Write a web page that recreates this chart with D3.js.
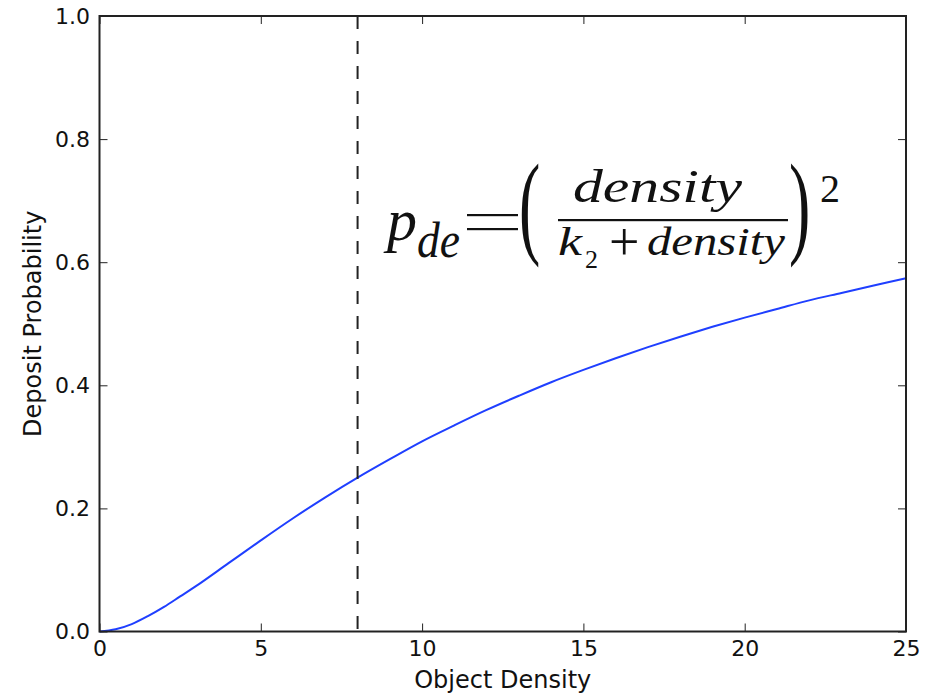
<!DOCTYPE html>
<html><head><meta charset="utf-8">
<script src="https://cdn.jsdelivr.net/npm/d3@7/dist/d3.min.js"></script>
<style>body{margin:0;background:#fff;} text{font-family:"DejaVu Sans",sans-serif;}</style>
</head><body>
<svg id="c" width="936" height="697"></svg>
<script>
// Data
const density = [0,0.5,1,1.5,2,2.5,3,4,5,6,7,8,9,10,11,12,13,14,15,16,17,18,19,20,21,22,23,24,25];
const probability = [0,0.0035,0.012,0.025,0.040,0.057,0.074,0.111,0.148,0.184,0.218,0.250,0.280,0.309,0.335,0.360,0.383,0.405,0.425,0.444,0.462,0.479,0.495,0.510,0.524,0.538,0.550,0.562,0.574];
const xTicks = [0,5,10,15,20,25];
const yTicks = [0.0,0.2,0.4,0.6,0.8,1.0];
const markerX = 8;

const svg = d3.select("#c");
const m = {l:99.5, r:906, t:16, b:631.5};
const x = d3.scaleLinear().domain([0,25]).range([m.l,m.r]);
const y = d3.scaleLinear().domain([0,1]).range([m.b,m.t]);

// line
const line = d3.line().x((d,i)=>x(density[i])).y(d=>y(d)).curve(d3.curveCatmullRom);
svg.append("path").datum(probability).attr("d",line)
  .attr("fill","none").attr("stroke","#1f3fff").attr("stroke-width",2);

// dashed line
svg.append("line").attr("x1",x(markerX)).attr("x2",x(markerX)).attr("y1",y(1)).attr("y2",y(0))
  .attr("stroke","#222").attr("stroke-width",2).attr("stroke-dasharray","13,12");

// axes with inward ticks
const tl = 8;
const gB = svg.append("g").attr("transform",`translate(0,${m.b})`)
  .call(d3.axisBottom(x).tickValues(xTicks).tickSizeInner(-tl).tickSizeOuter(0).tickPadding(9).tickFormat(d3.format("d")));
const gT = svg.append("g").attr("transform",`translate(0,${m.t})`)
  .call(d3.axisTop(x).tickValues(xTicks).tickSizeInner(-tl).tickSizeOuter(0).tickFormat(""));
const gL = svg.append("g").attr("transform",`translate(${m.l},0)`)
  .call(d3.axisLeft(y).tickValues(yTicks).tickSizeInner(-tl).tickSizeOuter(0).tickPadding(9.5).tickFormat(d3.format(".1f")));
const gR = svg.append("g").attr("transform",`translate(${m.r},0)`)
  .call(d3.axisRight(y).tickValues(yTicks).tickSizeInner(-tl).tickSizeOuter(0).tickFormat(""));
[gB,gT,gL,gR].forEach(g=>{
  g.select(".domain").remove();
  g.attr("font-size",22).attr("font-family","DejaVu Sans");
  g.selectAll(".tick line").attr("stroke","#222").attr("stroke-width",1);
  g.selectAll(".tick text").attr("fill","#111");
});
// frame
svg.append("rect").attr("x",m.l).attr("y",m.t).attr("width",m.r-m.l).attr("height",m.b-m.t)
  .attr("fill","none").attr("stroke","#222").attr("stroke-width",2);

// labels
svg.append("text").attr("x",(m.l+m.r)/2).attr("y",688).attr("text-anchor","middle")
  .attr("font-size",24).attr("fill","#111").text("Object Density");
svg.append("text").attr("transform",`translate(41,${(m.t+m.b)/2}) rotate(-90)`).attr("text-anchor","middle")
  .attr("font-size",24).attr("fill","#111").text("Deposit Probability");

// formula
const ser = "'Liberation Serif',serif";
const f = svg.append("g").attr("fill","#111");
const t = (xx,yy,s,txt,it,len) => {
  const e = f.append("text").attr("x",xx).attr("y",yy).attr("font-size",s).style("font-family",ser)
    .attr("font-style",it?"italic":"normal").text(txt);
  if (len) e.attr("textLength",len).attr("lengthAdjust","spacingAndGlyphs");
  return e;
};
t(387,240,60,"p",true);
t(417,257,50,"de",true,43);
f.append("rect").attr("x",467).attr("y",214).attr("width",51).attr("height",2.2);
f.append("rect").attr("x",467).attr("y",228).attr("width",51).attr("height",2.2);
f.append("text").attr("transform","translate(519,243) scale(1,1.78)").attr("font-size",64).style("font-family",ser).text("(");
f.append("text").attr("transform","translate(789,243) scale(1,1.78)").attr("font-size",64).style("font-family",ser).text(")");
t(573,202,47,"density",true,169);
f.append("rect").attr("x",558).attr("y",219).attr("width",230).attr("height",2.2);
t(558,255,40,"k",true,24);
t(585,268,26,"2",false);
t(609,260,54,"+",false);
t(647,255,40,"density",true,138);
t(820,202,40,"2",false);
</script>
</body></html>
